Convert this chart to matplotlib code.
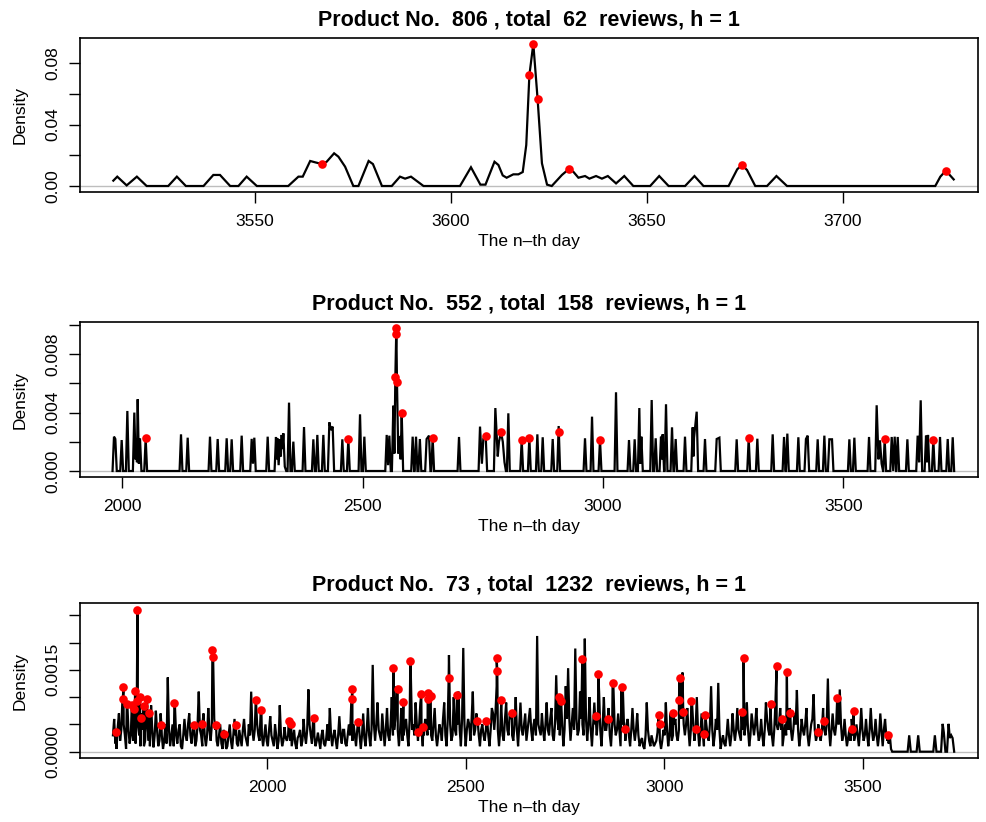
import numpy as np
import matplotlib
matplotlib.use("Agg")
import matplotlib.pyplot as plt

plt.rcParams['font.family'] = ['Liberation Sans', 'DejaVu Sans']

# ---------------- data ----------------
titles = ["Product No.  806 , total  62  reviews, h = 1",
          "Product No.  552 , total  158  reviews, h = 1",
          "Product No.  73 , total  1232  reviews, h = 1"]
xlabel_text = "The n\u2013th day"
ylabel_text = "Density"

# Panel 1 (product 806): density curve vertices (day, density)
days806 = [3513.9, 3514.9, 3517.3, 3519.9, 3522.4, 3527.9, 3530.1, 3532.4, 3536.9, 3539.4,
           3541.1, 3543.7, 3545.8, 3547.9, 3550.5, 3558.5, 3561.1, 3562.2, 3564.1, 3565.4,
           3567.1, 3568.3, 3570.2, 3571.3, 3573.0, 3575.1, 3576.4, 3579.0, 3580.1, 3582.4,
           3584.9, 3587.0, 3588.3, 3589.8, 3593.0, 3602.3, 3605.1, 3607.5, 3608.8, 3611.1,
           3612.1, 3613.2, 3614.2, 3615.9, 3617.2, 3618.3, 3619.2, 3620.0, 3621.0, 3622.1,
           3623.2, 3624.5, 3625.7, 3628.3, 3630.0, 3631.2, 3632.5, 3634.2, 3635.3, 3637.0,
           3638.5, 3640.0, 3642.1, 3644.2, 3646.5, 3650.8, 3653.1, 3655.5, 3659.7, 3662.1,
           3664.4, 3670.8, 3673.0, 3674.2, 3675.5, 3677.6, 3680.6, 3683.0, 3685.7, 3723.5,
           3724.8, 3726.2, 3728.2]
dens806 = [0.0035, 0.0061, 0.0004, 0.0061, 0.0, 0.0, 0.0061, 0.0, 0.0, 0.0072,
           0.0072, 0.0, 0.0, 0.0061, 0.0, 0.0, 0.0061, 0.0061, 0.0163, 0.0154,
           0.0143, 0.0158, 0.0213, 0.0191, 0.0126, 0.0, 0.0, 0.0163, 0.0143, 0.0,
           0.0, 0.0061, 0.0048, 0.0061, 0.0, 0.0, 0.0122, 0.0009, 0.0009, 0.0158,
           0.0137, 0.0069, 0.0054, 0.0076, 0.0076, 0.0091, 0.0267, 0.0723, 0.0926, 0.0564,
           0.0148, 0.0009, 0.0, 0.0072, 0.0109, 0.0093, 0.0054, 0.0065, 0.0048, 0.0065,
           0.0048, 0.0065, 0.0017, 0.0065, 0.0, 0.0, 0.0065, 0.0, 0.0, 0.0065,
           0.0, 0.0, 0.0109, 0.0137, 0.0104, 0.0, 0.0, 0.0065, 0.0, 0.0,
           0.0061, 0.0100, 0.0043]
red_days806 = [3567.1, 3620.0, 3621.0, 3622.1, 3630.0, 3674.2, 3726.2]
red_dens806 = [0.0143, 0.0723, 0.0926, 0.0564, 0.0109, 0.0137, 0.0100]

# Panel 2 (product 552): spike peaks (day, density in 1e-4)
spike_days552 = [1982.7, 1985.5, 1998.7, 2010.5, 2025.0, 2027.5, 2029.0, 2030.5, 2032.0, 2034.5,
                 2036.8, 2048.6, 2122.1, 2136.0, 2182.4, 2198.4, 2217.1, 2227.5, 2248.3, 2269.1,
                 2271.8, 2274.6, 2302.4, 2319.7, 2321.0, 2322.5, 2325.2, 2328.0, 2329.8, 2331.5,
                 2333.2, 2335.0, 2338.0, 2346.8, 2355.8, 2378.0, 2397.4, 2405.7, 2418.2, 2430.7,
                 2434.0, 2437.6, 2457.7, 2470.2, 2494.5, 2503.5, 2550.0, 2552.8, 2555.5, 2563.8,
                 2566.0, 2568.0, 2570.0, 2571.4, 2574.0, 2577.0, 2579.0, 2581.2, 2604.0, 2611.0,
                 2619.0, 2633.0, 2638.0, 2645.6, 2700.4, 2744.1, 2748.0, 2751.0, 2755.9, 2776.0,
                 2781.0, 2783.5, 2787.8, 2791.5, 2795.0, 2803.0, 2830.8, 2846.7, 2863.4, 2874.5,
                 2895.3, 2907.7, 2962.5, 2977.1, 2993.7, 3027.0, 3054.0, 3065.8, 3075.5, 3077.5,
                 3079.7, 3101.2, 3109.5, 3120.6, 3122.3, 3124.0, 3131.0, 3143.5, 3151.1, 3170.5,
                 3186.5, 3188.0, 3189.3, 3194.8, 3212.1, 3236.4, 3242.0, 3278.0, 3303.0, 3321.0,
                 3352.9, 3376.5, 3383.4, 3406.3, 3422.1, 3425.7, 3446.5, 3460.4, 3470.8, 3476.3,
                 3512.4, 3522.8, 3553.3, 3569.2, 3573.0, 3576.0, 3579.5, 3585.9, 3600.5, 3606.7,
                 3613.0, 3633.1, 3654.5, 3657.5, 3660.8, 3671.9, 3674.0, 3676.0, 3687.1, 3701.0,
                 3717.0, 3727.4]
spike_e4_552 = [23.5, 21.9, 21.2, 41.1, 40.0, 8.0, 22.0, 6.0, 49.1, 5.0,
                22.4, 22.4, 25.1, 22.8, 23.5, 21.9, 22.4, 21.7, 24.2, 22.0,
                5.0, 22.8, 23.5, 23.3, 8.0, 22.4, 4.0, 21.9, 10.0, 24.7,
                15.0, 25.8, 3.0, 46.8, 20.1, 30.1, 21.7, 24.7, 24.7, 33.3,
                28.0, 30.4, 21.7, 21.9, 38.8, 23.5, 24.7, 4.0, 24.2, 44.7,
                12.0, 64.6, 97.9, 60.7, 12.0, 24.0, 8.0, 39.7, 23.5, 23.5,
                21.9, 21.9, 24.2, 22.4, 23.3, 30.4, 5.0, 22.0, 24.0, 43.1,
                10.0, 20.0, 26.5, 20.0, 6.0, 39.5, 21.2, 22.8, 25.1, 23.1,
                21.9, 30.8, 22.4, 37.2, 21.5, 53.9, 21.2, 21.7, 43.1, 5.0,
                23.5, 48.6, 22.4, 23.5, 8.0, 25.1, 45.7, 29.9, 21.9, 23.5,
                29.9, 10.0, 22.8, 40.6, 21.9, 21.9, 22.8, 21.7, 22.4, 22.1,
                25.1, 23.3, 25.6, 23.1, 21.9, 24.2, 21.7, 24.2, 21.7, 21.7,
                21.7, 22.8, 23.3, 45.0, 8.0, 21.0, 5.0, 21.7, 23.3, 23.5,
                23.3, 21.7, 24.2, 6.0, 48.4, 24.2, 6.0, 24.7, 21.5, 23.3,
                21.9, 23.1]
red_days552 = [2048.6, 2470.2, 2568.0, 2569.3, 2570.0, 2571.4, 2581.2, 2645.6, 2755.9,
               2787.8, 2830.8, 2846.7, 2907.7, 2993.7, 3303.0, 3585.9, 3687.1]
red_e4_552 = [22.4, 21.9, 64.6, 93.8, 97.9, 60.7, 39.7, 22.4, 24.0,
              26.5, 21.2, 22.8, 26.5, 21.5, 22.4, 21.7, 21.5]

# Panel 3 (product 73): density on a 6-day grid from day 1612 (values in 1e-4)
grid_start73, grid_step73 = 1612, 6
grid_e4_73 = [
    3, 1.5, 4.5, 2, 10, 3, 9, 1.5, 8, 4,          # 1612
    9, 3, 7, 1, 8, 2, 8.5, 0.8, 7.5, 1,           # 1672
    7, 0.5, 5, 13.6, 1, 5, 8.5, 1.5, 5, 0.5,      # 1732
    6, 2, 7, 1.5, 5, 2, 11, 3, 7, 1,              # 1792
    8, 2, 18, 4, 1, 5, 0.5, 3, 1, 5,              # 1852
    0.5, 6, 1.5, 4, 1, 6, 2, 5, 11, 2,            # 1912
    9.5, 3, 7.5, 1, 5, 1, 6.5, 2, 5, 0.5,         # 1972
    8.5, 1, 4.5, 2, 5.5, 1, 4, 0.5, 3, 1,         # 2032
    6, 1.5, 11.4, 3, 6, 1, 3.5, 0.5, 4, 1,        # 2092
    5, 8, 1, 4, 0.5, 6.5, 1.5, 4, 1, 5,           # 2152
    9, 5, 1, 6, 0.5, 7, 1, 8, 1, 15.9,            # 2212
    2, 9, 3, 7, 1, 8, 2, 10, 4, 12,               # 2272
    1, 8, 3, 6, 1, 14, 5, 9, 2, 9,                # 2332
    1, 6, 3, 9, 2, 8, 1, 5, 2, 9,                 # 2392
    1, 17.7, 2, 10, 3, 11, 1, 19, 1, 6,           # 2452
    2, 11, 4, 6, 1, 5, 2, 6, 1, 8,                # 2512
    4, 12, 1, 8, 2, 9, 3, 6, 2, 10,               # 2572
    1, 9, 3, 7, 4, 8, 2, 6, 21.2, 4,              # 2632
    7, 2, 9, 3, 8, 2, 14, 4, 10, 1,               # 2692
    12, 15.3, 2, 8, 18.9, 3, 11, 5, 20.7, 2,      # 2752
    10, 1, 9, 3, 11, 1, 10, 4, 8, 1,              # 2812
    12, 3, 7, 1, 11, 2, 6, 1, 8, 2,               # 2872
    7, 1, 2.5, 0.5, 9, 2, 3, 1, 2, 6,             # 2932
    0.5, 4, 9, 1, 7, 3, 6, 2, 9, 14.5,            # 2992
    3, 8, 1, 9, 2, 10, 1, 7, 1, 5,                # 3052
    2, 12, 1, 6, 12.6, 0.5, 3, 1, 6, 1,           # 3112
    7, 2, 8, 3, 5, 3, 9, 1, 7, 3,                 # 3172
    8, 2, 6, 1, 9, 4, 7, 1, 9, 4,                 # 3232
    8, 1, 5, 6, 8, 2, 7, 11.3, 1, 6,              # 3292
    3, 8, 1, 5, 10.5, 2, 5, 2, 8, 3,              # 3352
    13.4, 1, 7, 3, 8, 11.4, 2, 6, 1, 4,           # 3412
    6, 2, 5, 1, 8, 2, 6, 1, 8, 2,                 # 3472
    6, 1, 7, 1, 6, 2, 3, 0, 0,                    # 3532
]
# values half-way between the grid days above (day 1615, 1621, ...)
mid_e4_73 = [
    6, 0.5, 7, 4, 5, 0.5, 4, 3, 2, 1.5,           # 1615
    5, 1, 4, 2, 5, 1, 4, 3, 4, 2,                 # 1675
    3, 2, 1.5, 4, 3, 1, 3, 4, 1, 3,               # 1735
    3, 5, 3, 4, 1, 5, 4, 1, 3, 3,                 # 1795
    4, 5, 6, 2, 3, 1.5, 4, 0.5, 3, 2,             # 1855
    3, 3, 1, 2.5, 4, 3, 1, 3, 4, 4,               # 1915
    5, 2, 3, 3, 2, 4, 3, 1, 3, 2,                 # 1975
    3, 2, 2.5, 3, 2, 2.5, 1.5, 2.5, 4, 2,         # 2035
    3, 4, 5, 1.5, 3, 2, 2, 3, 1.5, 2.5,           # 2095
    2, 3, 3, 2, 3, 3, 4, 1.5, 3, 3,               # 2155
    2, 3, 4, 3, 3, 2.5, 4, 3, 4, 5,               # 2215
    5, 4, 2, 4, 4, 3, 5, 3, 6, 4,                 # 2275
    4, 2, 5, 3, 6, 4, 3, 5, 5, 4,                 # 2335
    3, 5, 4, 3, 5, 3, 3, 4, 6, 3,                 # 2395
    6, 5, 3, 4, 5, 4, 6, 5, 4, 5,                 # 2455
    6, 3, 7, 3, 4, 3, 4, 3, 4, 7,                 # 2515
    7, 4, 4, 3, 6, 4, 7, 3, 5, 4,                 # 2575
    5, 4, 5, 2, 6, 4, 5, 3, 5, 3,                 # 2635
    4, 5, 4, 6, 3, 5, 6, 3, 5, 4,                 # 2695
    6, 6, 5, 4, 6, 4, 6, 3, 6, 5,                 # 2755
    4, 5, 5, 6, 4, 5, 4, 6, 3, 5,                 # 2815
    5, 4, 4, 5, 4, 5, 3, 4, 4, 4,                 # 2875
    3, 2, 1, 3, 4, 1, 2, 1.5, 3.5, 2,             # 2935
    2, 3, 4, 3, 2, 5, 3, 4, 6, 5,                 # 2995
    5, 4, 4, 5, 4, 4, 3, 4, 3, 3,                 # 3055
    5, 4, 3, 4, 4, 2, 1.5, 3, 3, 3,               # 3115
    4, 4, 4, 2, 4, 5, 4, 3, 5, 5,                 # 3175
    4, 3, 3, 4, 6, 3, 3, 4, 5, 5,                 # 3235
    4, 3, 3, 4, 4, 4, 5, 4, 3, 4,                 # 3295
    5, 3, 3, 6, 4, 3, 3, 4, 4, 5,                 # 3355
    4, 4, 4, 5, 5, 5, 3, 3, 2.5, 2,               # 3415
    3, 3, 3, 4, 4, 3, 3, 4, 4, 3,                 # 3475
    3, 3, 4, 4, 3, 1.5, 0.5, 0,                   # 3535
]
tail_days73 = [3616.8, 3639.4, 3681.4, 3701.0, 3704.0, 3716.0, 3719.0, 3722.5, 3726.0]
tail_e4_73 = [3.0, 3.0, 3.0, 5.1, 3.5, 5.1, 2.5, 3.0, 2.5]
red_days73 = [1619.1, 1638.4, 1636.7, 1646.8, 1659.3, 1665.2, 1667.7, 1673.6, 1672.0, 1680.3,
              1689.5, 1682.8, 1698.0, 1703.8, 1734.0, 1766.7, 1816.2, 1837.2, 1862.4, 1863.2,
              1871.6, 1891.7, 1921.1, 1971.5, 1985.7, 2054.5, 2060.4, 2118.3, 2214.8, 2214.8,
              2229.0, 2318.0, 2328.9, 2343.1, 2360.7, 2380.9, 2388.4, 2393.5, 2406.0, 2404.4,
              2412.0, 2457.2, 2478.2, 2529.4, 2552.0, 2578.1, 2579.7, 2589.8, 2616.6, 2735.8,
              2739.2, 2793.7, 2827.3, 2834.0, 2857.5, 2870.0, 2892.7, 2901.1, 2985.8, 2988.3,
              3022.7, 3037.0, 3038.7, 3047.9, 3068.1, 3079.0, 3100.0, 3103.3, 3194.7, 3199.8,
              3267.7, 3282.8, 3297.1, 3308.8, 3317.2, 3386.0, 3401.1, 3435.5, 3471.6, 3476.6,
              3563.1]
red_e4_73 = [3.6, 11.9, 9.6, 8.7, 8.5, 7.9, 11.2, 26.0, 9.3, 10.1,
             8.4, 6.1, 9.6, 7.0, 4.9, 9.0, 4.9, 5.1, 18.6, 17.4,
             4.9, 3.2, 4.9, 9.5, 7.6, 5.6, 5.1, 6.2, 11.4, 9.6,
             5.5, 15.3, 11.5, 9.1, 16.7, 3.6, 10.5, 4.6, 10.8, 9.6,
             10.2, 13.5, 10.3, 5.6, 5.7, 17.1, 14.8, 9.5, 7.1, 10.1,
             9.2, 16.9, 6.6, 14.3, 6.0, 12.6, 11.8, 4.1, 6.8, 5.1,
             7.1, 9.5, 13.5, 7.3, 9.2, 4.1, 3.2, 6.8, 7.3, 17.1,
             8.7, 15.7, 6.0, 14.6, 7.1, 3.6, 5.6, 9.8, 4.1, 7.4,
             3.1]

# axis settings (ticks / labels / limits)
xticks806 = [3550, 3600, 3650, 3700]
yticks806 = [0.0, 0.02, 0.04, 0.06, 0.08]
ylabels806 = ["0.00", "", "0.04", "", "0.08"]
xticks552 = [2000, 2500, 3000, 3500]
yticks552 = [0.0, 0.002, 0.004, 0.006, 0.008, 0.010]
ylabels552 = ["0.000", "", "0.004", "", "0.008", ""]
xticks73 = [2000, 2500, 3000, 3500]
yticks73 = [0.0, 0.0005, 0.0010, 0.0015, 0.0020, 0.0025]
ylabels73 = ["0.0000", "", "", "0.0015", "", ""]


def spike_line(days, heights, half):
    xs, ys = [], []
    prev = None
    for d, h in zip(days, heights):
        if prev is None or d - prev > 2 * half:
            if prev is not None:
                xs.append(prev + half); ys.append(0.0)
            xs.append(d - half); ys.append(0.0)
        xs.append(d); ys.append(h)
        prev = d
    xs.append(prev + half); ys.append(0.0)
    return np.array(xs), np.array(ys)


# ---------------- figure ----------------
W, H = 987, 822
fig = plt.figure(figsize=(W / 100, H / 100), dpi=100)
fig.patch.set_facecolor('white')

left, width = 80 / W, 898 / W
boxes = [(38.3, 192.0), (322.3, 476.7), (603.3, 757.7)]
axes = []
for top, bot in boxes:
    ax = fig.add_axes([left, 1 - bot / H, width, (bot - top) / H])
    axes.append(ax)

LINE_KW = dict(color='black', lw=1.6, solid_joinstyle='miter', zorder=3)
RED_KW = dict(color='#FF0000', marker='o', ls='none', ms=6.2, mec='none', zorder=4)
TICK_FS = 12.5

# Panel 1
ax = axes[0]
ax.plot(days806, dens806, **LINE_KW)
ax.plot(red_days806, red_dens806, **RED_KW)
ax.set_xlim(3505.4, 3734.4)
ax.set_ylim(-0.0039, 0.0962)
ax.set_xticks(xticks806)
ax.set_yticks(yticks806)
ax.set_yticklabels(ylabels806)

# Panel 2
ax = axes[1]
sx, sy = spike_line(spike_days552, spike_e4_552, 3.0)
ax.plot(sx, sy * 1e-4, **LINE_KW)
ax.plot(red_days552, np.array(red_e4_552) * 1e-4, **RED_KW)
ax.set_xlim(1912, 3780)
ax.set_ylim(-0.00039, 0.01018)
ax.set_xticks(xticks552)
ax.set_yticks(yticks552)
ax.set_yticklabels(ylabels552)

# Panel 3
ax = axes[2]
gx = grid_start73 + grid_step73 * np.arange(len(grid_e4_73))
mx = grid_start73 + grid_step73 / 2 + grid_step73 * np.arange(len(mid_e4_73))
tx, ty = spike_line(tail_days73, tail_e4_73, 4.0)
allx = np.concatenate([gx, mx, tx, red_days73])
ally = np.concatenate([grid_e4_73, mid_e4_73, ty, red_e4_73])
order = np.argsort(allx, kind='stable')
ax.plot(allx[order], ally[order] * 1e-4, **LINE_KW)
ax.plot(red_days73, np.array(red_e4_73) * 1e-4, **RED_KW)
ax.set_xlim(1529, 3790)
ax.set_ylim(-0.00011, 0.002718)
ax.set_xticks(xticks73)
ax.set_yticks(yticks73)
ax.set_yticklabels(ylabels73)

for ax, title in zip(axes, titles):
    ax.axhline(0, color='#BEBEBE', lw=1.0, zorder=2)
    ax.set_title(title, fontsize=15.5, fontweight='bold', pad=9)
    for s in ax.spines.values():
        s.set_linewidth(1.2)
    ax.tick_params(axis='both', direction='out', length=8, width=1.0,
                   labelsize=TICK_FS, pad=6)
    ax.tick_params(axis='x', pad=8)
    for lab in ax.get_yticklabels():
        lab.set_rotation(90)
        lab.set_va('center')
    ax.set_xlabel(xlabel_text, fontsize=TICK_FS)
    ax.set_ylabel(ylabel_text, fontsize=TICK_FS)
    ax.xaxis.set_label_coords(0.5, -0.275)
    ax.yaxis.set_label_coords(-0.058, 0.5)

fig.savefig('out.png', dpi=100, facecolor='white')
